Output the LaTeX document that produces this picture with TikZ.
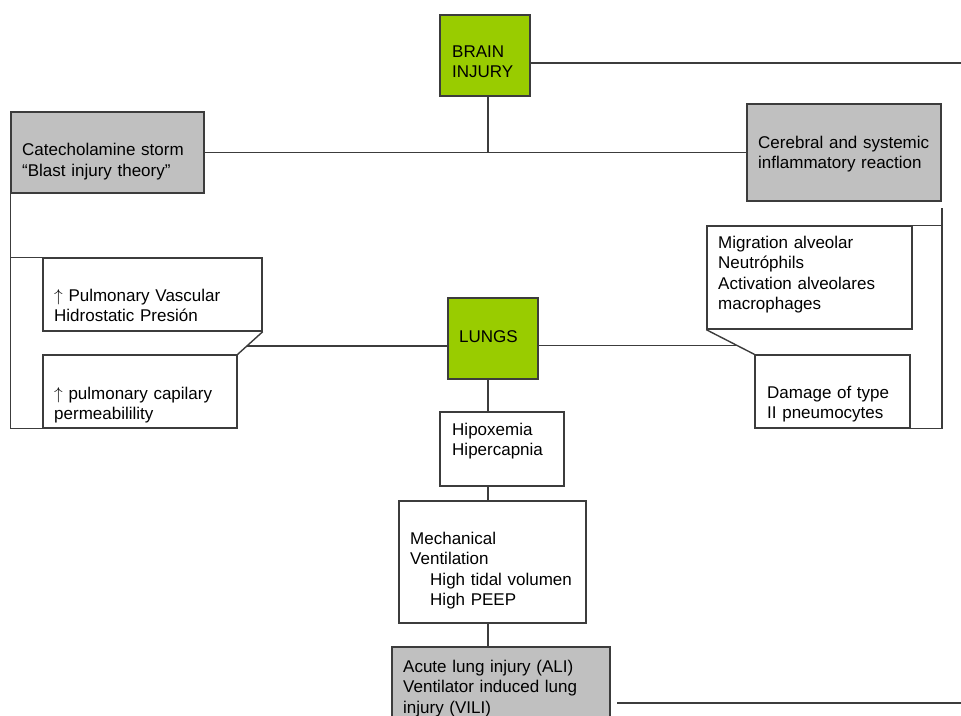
\documentclass[tikz,border=0pt]{standalone}
\usepackage{fontspec}
\setmainfont{Liberation Sans}
\usetikzlibrary{calc,fit}
\definecolor{brainfill}{HTML}{99CC00}
\definecolor{boxgrey}{HTML}{C0C0C0}
\definecolor{edge}{HTML}{3C3C3C}

\begin{document}
\begin{tikzpicture}[x=1pt,y=-1pt,
  plainbox/.style={draw=edge,line width=1.4pt,inner sep=0pt,fill=white},
  greenbox/.style={plainbox,fill=brainfill},
  greybox/.style={plainbox,fill=boxgrey},
  txt/.style={anchor=base west,inner sep=0pt,text width=250pt,align=left,
              font=\fontsize{17}{20.5}\selectfont},
  link/.style={draw=edge,line width=1.4pt}]
  \useasboundingbox (0,0) rectangle (961,715);

  % boxes
  \node[greenbox,fit={(440,15) (530,96)}]   (brain) {};
  \node[greybox, fit={(11,112) (204,193)}]  (cat)   {};
  \node[greybox, fit={(747,104) (941,201)}] (infl)  {};
  \node[plainbox,fit={(43,258) (262,331)}]  (pva)   {};
  \node[plainbox,fit={(43,355) (237,428)}]  (cap)   {};
  \node[greenbox,fit={(448,298) (538,379)}] (lungs) {};
  \node[plainbox,fit={(707,226) (912,329)}] (mig)   {};
  \node[plainbox,fit={(755,355) (910,428)}] (dmg)   {};
  \node[plainbox,fit={(440,412) (564,486)}] (hyp)   {};
  \node[plainbox,fit={(399,501) (586,623)}] (mech)  {};
  \node[greybox, fit={(392,647) (610,722)}] (ali)   {};

  % texts
  \node[txt] (brain-t) at (452,57)    {BRAIN\\INJURY};
  \node[txt] (cat-t)   at (22,155.5)  {Catecholamine storm\\“Blast injury theory”};
  \node[txt] (infl-t)  at (758,148)   {Cerebral and systemic\\inflammatory reaction};
  \node[txt] (pva-t)   at (54,301)    {$\uparrow$ Pulmonary Vascular\\Hidrostatic Presión};
  \node[txt] (cap-t)   at (54,399)    {$\uparrow$ pulmonary capilary\\permeabilility};
  \node[txt] (lungs-t) at (459,342)   {LUNGS};
  \node[txt] (mig-t)   at (718,248)   {Migration alveolar\\Neutróphils\\Activation alveolares\\macrophages};
  \node[txt] (dmg-t)   at (767,398)   {Damage of type\\II pneumocytes};
  \node[txt] (hyp-t)   at (452,435)   {Hipoxemia\\Hipercapnia};
  \node[txt] (mech-t)  at (410,544)   {Mechanical\\Ventilation\\\hspace*{20pt}High tidal volumen\\\hspace*{20pt}High PEEP};
  \node[txt] (ali-t)   at (403,672)   {Acute lung injury (ALI)\\Ventilator induced lung\\injury (VILI)};

  % connectors
  \coordinate (axis)   at (488,0);
  \coordinate (rimtop) at (961,63);
  \coordinate (rimbot) at (961,703);
  \coordinate (alitip) at (617,703);
  \coordinate (rbar)   at (942,208);
  \coordinate (ljoin)  at ($(pva.south east)!0.625!(cap.north east)$);
  \coordinate (rjoin)  at ($(mig.south west)!0.654!(dmg.north west)$);

  \draw[link] (brain.east |- rimtop) -- (rimtop);
  \draw[link] (cat.east) -- (infl.west);
  \draw[link] (brain.south -| axis) -- (axis |- cat.east);

  \draw[link] (cat.south west) |- (cap.south west);
  \draw[link] (cat.south west |- pva.north west) -- (pva.north west);
  \draw[link] (pva.south east) -- (cap.north east);
  \draw[link] (ljoin) -- (ljoin -| lungs.west);

  \draw[link] (mig.south west) -- (dmg.north west);
  \draw[link] (lungs.east |- rjoin) -- (rjoin);
  \draw[link] (rbar) |- (dmg.south east);
  \draw[link] (rbar |- mig.north east) -- (mig.north east);

  \draw[link] (lungs.south -| axis) -- (hyp.north -| axis);
  \draw[link] (hyp.south -| axis) -- (mech.north -| axis);
  \draw[link] (mech.south -| axis) -- (ali.north -| axis);
  \draw[link] (alitip) -- (rimbot);
\end{tikzpicture}
\end{document}
